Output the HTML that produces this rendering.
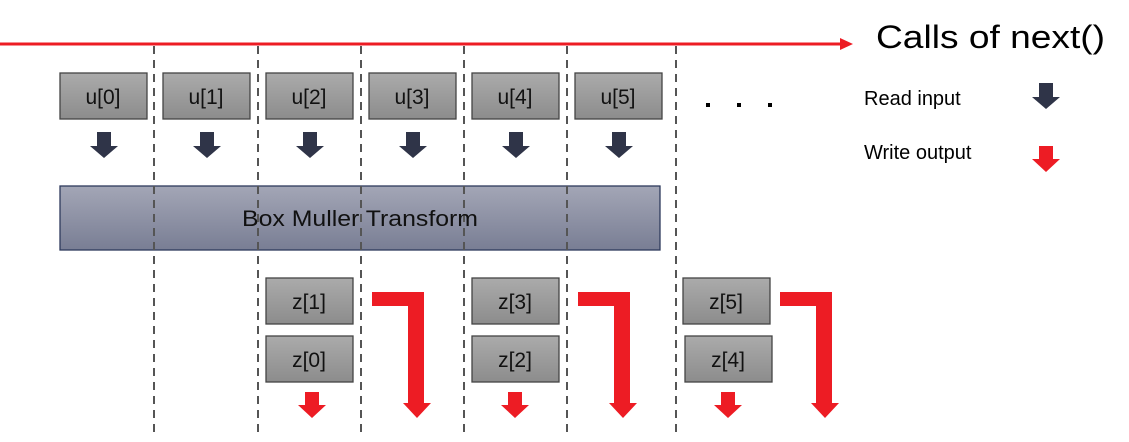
<!DOCTYPE html>
<html><head><meta charset="utf-8"><style>
html,body{margin:0;padding:0;background:#fff;}
svg text{font-family:"Liberation Sans",Arial,sans-serif;}
</style></head><body>
<svg width="1129" height="437" viewBox="0 0 1129 437" xmlns="http://www.w3.org/2000/svg">
<defs>
<linearGradient id="g" x1="0" y1="0" x2="0" y2="1"><stop offset="0" stop-color="#ababab"/><stop offset="1" stop-color="#8c8c8c"/></linearGradient>
<linearGradient id="b" x1="0" y1="0" x2="0" y2="1"><stop offset="0" stop-color="#a3a6b6"/><stop offset="1" stop-color="#797e94"/></linearGradient>
</defs>
<line x1="0" y1="44" x2="842" y2="44" stroke="#ed1c24" stroke-width="3"/>
<polygon points="840,38 853,44 840,50" fill="#ed1c24"/>
<rect x="60" y="186" width="600" height="64" fill="url(#b)" stroke="#2e3a5c" stroke-width="1.3"/>
<g stroke="#555" stroke-width="2" stroke-dasharray="8,6">
<line x1="154" y1="46" x2="154" y2="432"/><line x1="258" y1="46" x2="258" y2="432"/>
<line x1="361" y1="46" x2="361" y2="432"/><line x1="464" y1="46" x2="464" y2="432"/>
<line x1="567" y1="46" x2="567" y2="432"/><line x1="676" y1="46" x2="676" y2="432"/>
</g>
<text x="242" y="226" font-size="22" fill="#111" textLength="236" lengthAdjust="spacingAndGlyphs">Box Muller Transform</text>
<text x="876" y="48" font-size="32" fill="#000" textLength="229" lengthAdjust="spacingAndGlyphs">Calls of next()</text>
<g stroke="#444" stroke-width="1.3" fill="url(#g)">
<rect x="60" y="73" width="87" height="46"/><rect x="163" y="73" width="87" height="46"/>
<rect x="266" y="73" width="87" height="46"/><rect x="369" y="73" width="87" height="46"/>
<rect x="472" y="73" width="87" height="46"/><rect x="575" y="73" width="87" height="46"/>
<rect x="266" y="278" width="87" height="46"/><rect x="266" y="336" width="87" height="46"/>
<rect x="472" y="278" width="87" height="46"/><rect x="472" y="336" width="87" height="46"/>
<rect x="683" y="278" width="87" height="46"/><rect x="685" y="336" width="87" height="46"/>
</g>
<g font-size="21" fill="#111" text-anchor="middle">
<text x="103" y="104">u[0]</text><text x="206" y="104">u[1]</text><text x="309" y="104">u[2]</text>
<text x="412" y="104">u[3]</text><text x="515" y="104">u[4]</text><text x="618" y="104">u[5]</text>
<text x="309" y="309">z[1]</text><text x="309" y="367">z[0]</text>
<text x="515" y="309">z[3]</text><text x="515" y="367">z[2]</text>
<text x="726" y="309">z[5]</text><text x="728" y="367">z[4]</text>
</g>
<g fill="#000">
<rect x="706" y="103" width="4" height="4"/><rect x="737" y="103" width="4" height="4"/><rect x="768" y="103" width="4" height="4"/>
</g>
<g fill="#2f3448">
<polygon points="-7,0 7,0 7,14 14,14 0,26 -14,14 -7,14" transform="translate(104,132)"/>
<polygon points="-7,0 7,0 7,14 14,14 0,26 -14,14 -7,14" transform="translate(207,132)"/>
<polygon points="-7,0 7,0 7,14 14,14 0,26 -14,14 -7,14" transform="translate(310,132)"/>
<polygon points="-7,0 7,0 7,14 14,14 0,26 -14,14 -7,14" transform="translate(413,132)"/>
<polygon points="-7,0 7,0 7,14 14,14 0,26 -14,14 -7,14" transform="translate(516,132)"/>
<polygon points="-7,0 7,0 7,14 14,14 0,26 -14,14 -7,14" transform="translate(619,132)"/>
<polygon points="-7,0 7,0 7,14 14,14 0,26 -14,14 -7,14" transform="translate(1046,83)"/>
</g>
<g fill="#ed1c24">
<polygon points="-7,0 7,0 7,13 14,13 0,26 -14,13 -7,13" transform="translate(312,392)"/>
<polygon points="-7,0 7,0 7,13 14,13 0,26 -14,13 -7,13" transform="translate(515,392)"/>
<polygon points="-7,0 7,0 7,13 14,13 0,26 -14,13 -7,13" transform="translate(728,392)"/>
<polygon points="-7,0 7,0 7,13 14,13 0,26 -14,13 -7,13" transform="translate(1046,146)"/>
<polygon points="0,0 52,0 52,111 59,111 45,126 31,111 36,111 36,14 0,14" transform="translate(372,292)"/>
<polygon points="0,0 52,0 52,111 59,111 45,126 31,111 36,111 36,14 0,14" transform="translate(578,292)"/>
<polygon points="0,0 52,0 52,111 59,111 45,126 31,111 36,111 36,14 0,14" transform="translate(780,292)"/>
</g>
<text x="864" y="105" font-size="20" fill="#000">Read input</text>
<text x="864" y="159" font-size="20" fill="#000">Write output</text>
</svg>
</body></html>
